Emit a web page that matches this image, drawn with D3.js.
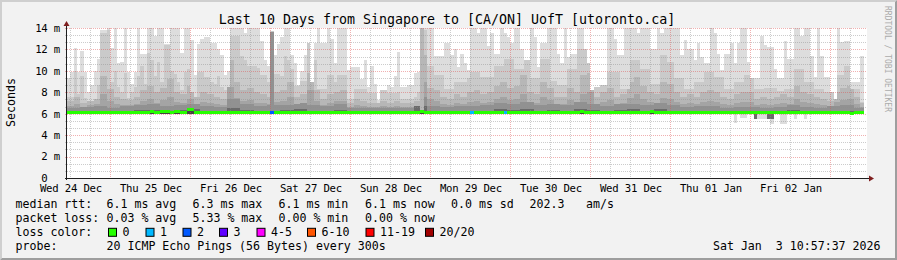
<!DOCTYPE html>
<html>
<head>
<meta charset="utf-8">
<script src="https://cdn.jsdelivr.net/npm/d3@7"></script>
<style>
  html, body { margin: 0; padding: 0; background: #f2f2f2; }
  svg { display: block; }
  text { font-family: "DejaVu Sans Mono", monospace; white-space: pre; fill: #000; }
</style>
</head>
<body>
<svg id="chart" width="897" height="260"></svg>
<script>
// ---- data (ms) ----
// hourly bins from Wed 24 Dec 11:00 to Sat 03 Jan 10:00
var maxPing = [
  9.3, 9.9, 12.1, 9.9, 11.9, 9.9, 8.0, 8.7, 10.0, 11.1,
  13.8, 13.8, 14, 12.1, 14, 10.7, 10.8, 14, 9.9, 8.8,
  9.9, 14, 11.6, 11.6, 14, 14, 13.3, 14, 14, 12.5,
  12.5, 14, 14, 14, 11.7, 14, 14, 12.9, 9.6, 12.5,
  13.0, 13.2, 13.2, 12.6, 12.6, 12.0, 11.5, 9.6, 10.0, 14,
  14, 14, 14, 13.5, 14, 14, 14, 14, 12.8, 11.0,
  10.5, 13.7, 11.5, 12.5, 13.2, 14, 14, 11.5, 10.7, 8.7,
  10.0, 11.5, 12.6, 9.0, 12.6, 14, 12.6, 12.6, 14, 13.0,
  10.7, 14, 14, 14, 10.1, 10.4, 10.4, 10.4, 9.2, 11.0,
  8.5, 10.5, 8.8, 7.3, 8.2, 8.2, 8.7, 8.5, 9.5, 11.8,
  8.5, 8.5, 8.7, 8.7, 9.8, 9.9, 14, 14, 14, 14,
  11.4, 11.4, 11.4, 12.6, 12.6, 11.5, 12.0, 10.4, 11.6, 10.7,
  10.1, 14, 14, 13.5, 14, 14, 12.3, 13.5, 11.6, 11.6,
  14, 13.5, 13.2, 12.6, 14, 14, 12.0, 11.0, 11.0, 14,
  13.2, 10.4, 12.6, 12.6, 14, 14, 14, 11.6, 10.7, 14,
  11.3, 11.6, 11.6, 14, 14, 12.0, 10.7, 8.2, 8.5, 8.5,
  8.7, 8.7, 14, 14, 13.0, 11.5, 11.5, 14, 14, 14,
  14, 13.5, 14, 14, 14, 12.0, 12.0, 14, 13.5, 14,
  14, 14, 14, 14, 11.5, 12.9, 12.0, 12.0, 11.0, 12.6,
  11.3, 10.7, 10.7, 14, 13.5, 11.6, 10.1, 11.6, 11.6, 12.6,
  10.7, 12.6, 14, 14, 10.8, 9.3, 9.3, 9.3, 13.3, 12.4,
  12.2, 12.2, 10.2, 9.3, 9.3, 12.8, 11.1, 11.1, 14, 14,
  13.3, 14, 14, 11.4, 9.4, 14, 11.4, 9.4, 9.4, 8.0,
  7.4, 14, 12.7, 12.8, 12.8, 9.0, 9.0, 9.0, 11.4
];
var ping19 = [
  7.6, 7.6, 10.0, 7.8, 9.5, 7.5, 7.2, 7.2, 7.4, 8.7,
  13.5, 13.5, 13.8, 9.0, 10.0, 8.5, 8.0, 9.8, 7.5, 8.0,
  8.5, 9.5, 10.5, 8.8, 11.7, 11.0, 9.5, 10.8, 9.0, 12.4,
  12.4, 10.0, 9.7, 9.0, 8.2, 9.9, 10.2, 8.0, 7.6, 9.9,
  9.9, 9.4, 9.4, 9.0, 8.8, 9.5, 8.5, 8.2, 8.5, 13.3,
  13.3, 13.3, 11.4, 11.0, 10.5, 10.5, 10.5, 10.3, 9.6, 9.6,
  9.0, 13.7, 9.7, 9.7, 9.5, 11.4, 11.0, 10.2, 8.6, 8.6,
  9.1, 9.1, 13.0, 11.0, 11.0, 8.3, 8.3, 8.3, 9.6, 9.6,
  9.0, 9.6, 9.6, 9.6, 7.4, 7.4, 8.3, 8.3, 8.3, 8.3,
  7.9, 7.9, 7.9, 7.0, 8.6, 8.6, 7.9, 7.9, 7.9, 8.0,
  7.4, 7.4, 7.4, 7.4, 7.6, 8.0, 14.0, 13.8, 10.5, 10.5,
  9.6, 9.6, 9.6, 8.3, 8.3, 8.3, 9.0, 9.0, 9.0, 9.0,
  9.3, 9.9, 9.9, 9.9, 9.4, 9.4, 9.4, 9.4, 10.5, 10.5,
  10.5, 11.1, 11.1, 11.1, 10.2, 10.2, 10.2, 11.9, 11.9, 9.3,
  9.3, 9.3, 11.1, 11.1, 11.1, 9.1, 9.1, 8.7, 8.7, 8.7,
  10.2, 10.2, 10.2, 12.0, 12.0, 12.7, 12.7, 8.7, 8.7, 8.7,
  9.6, 9.6, 9.9, 9.9, 9.9, 9.9, 8.3, 8.3, 8.3, 11.0,
  11.0, 11.0, 10.2, 10.2, 10.2, 8.8, 8.8, 8.8, 11.5, 11.5,
  10.8, 10.8, 9.3, 9.3, 9.3, 8.3, 8.3, 8.3, 9.0, 9.0,
  9.0, 9.9, 9.9, 9.9, 9.4, 9.4, 9.4, 8.3, 8.3, 8.3,
  9.0, 9.0, 9.0, 9.6, 9.6, 9.6, 8.3, 8.3, 8.3, 8.4,
  8.4, 8.4, 8.4, 8.1, 8.1, 8.3, 8.3, 8.3, 10.2, 10.2,
  10.2, 9.0, 9.0, 9.0, 8.3, 8.3, 8.3, 8.0, 8.0, 8.0,
  9.6, 9.6, 9.6, 10.5, 10.5, 8.3, 8.3, 8.3, 7.1
];
// 2-hour bins
var ping18 = [
  7.2, 7.6, 7.0, 7.2, 7.4, 9.5, 8.3, 7.6, 7.4, 7.3,
  7.6, 8.2, 8.6, 8.0, 8.4, 9.2, 8.0, 7.8, 8.6, 7.6,
  8.0, 7.8, 7.6, 7.4, 11.0, 9.0, 8.2, 8.4, 8.0, 7.8,
  7.6, 8.0, 8.2, 9.0, 7.6, 7.8, 9.8, 8.2, 7.4, 7.8,
  8.0, 8.2, 7.0, 7.4, 7.2, 7.0, 7.0, 7.2, 7.0, 7.2,
  7.0, 7.0, 7.2, 11.5, 8.4, 8.2, 7.6, 7.4, 7.8, 7.6,
  8.0, 8.2, 7.8, 8.0, 8.6, 9.0, 8.4, 8.6, 9.6, 8.0,
  7.8, 9.0, 8.4, 7.6, 7.6, 8.4, 8.0, 9.6, 9.8, 7.6,
  8.0, 8.4, 7.6, 7.8, 9.0, 9.4, 8.6, 8.0, 7.8, 9.0,
  8.8, 8.0, 7.6, 7.8, 7.6, 8.0, 8.2, 8.0, 7.6, 7.4,
  7.8, 8.0, 8.0, 7.4, 7.6, 7.4, 7.6, 7.8, 7.6, 8.6,
  8.0, 7.8, 7.6, 7.4, 7.2, 8.0, 8.4, 8.6, 7.6, 7.0
];
var ping17 = [
  6.7, 6.9, 6.6, 6.8, 6.9, 7.8, 7.2, 6.9, 6.8, 6.8,
  6.9, 7.2, 7.4, 7.0, 7.3, 7.6, 7.1, 7.0, 7.4, 6.9,
  7.1, 7.0, 6.9, 6.8, 8.5, 7.5, 7.2, 7.3, 7.0, 7.0,
  6.9, 7.1, 7.2, 7.6, 6.9, 7.0, 8.2, 7.2, 6.8, 7.0,
  7.2, 7.2, 6.6, 6.8, 6.7, 6.6, 6.6, 6.7, 6.6, 6.7,
  6.6, 6.6, 6.7, 9.0, 7.4, 7.2, 6.9, 6.8, 7.0, 6.9,
  7.1, 7.2, 7.0, 7.1, 7.4, 7.6, 7.3, 7.4, 7.8, 7.1,
  7.0, 7.6, 7.3, 6.9, 6.9, 7.3, 7.1, 7.8, 8.0, 6.9,
  7.1, 7.3, 6.9, 7.0, 7.5, 7.8, 7.4, 7.1, 7.0, 7.5,
  7.4, 7.1, 6.9, 7.0, 6.9, 7.1, 7.2, 7.1, 6.9, 6.8,
  7.0, 7.1, 7.1, 6.8, 6.9, 6.8, 6.9, 7.0, 6.9, 7.4,
  7.1, 7.0, 6.9, 6.8, 6.7, 7.1, 7.3, 7.4, 6.9, 6.6
];
// 4-hour bins
var ping16 = [
  6.5, 6.6, 6.7, 6.5, 6.7, 6.8, 6.9, 6.7, 6.8, 6.9,
  6.7, 6.6, 7.4, 6.9, 6.7, 6.8, 6.8, 7.0, 6.8, 6.7,
  6.9, 6.5, 6.5, 6.5, 6.5, 6.5, 7.6, 6.7, 6.6, 6.7,
  6.7, 6.8, 7.0, 6.9, 7.1, 6.8, 6.9, 6.8, 7.1, 6.9,
  6.7, 6.9, 6.9, 6.8, 7.0, 6.8, 6.6, 6.7, 6.7, 6.5,
  6.6, 6.6, 6.5, 6.6, 6.8, 6.6, 6.5, 6.7, 6.8, 6.5
];
var ping14 = [
  6.2, 6.25, 6.25, 6.25, 6.3, 6.35, 6.35, 6.3, 6.35, 6.4,
  6.3, 6.25, 6.5, 6.35, 6.25, 6.3, 6.35, 6.4, 6.3, 6.25,
  6.35, 6.2, 6.2, 6.2, 6.2, 6.2, 6.7, 6.25, 6.25, 6.25,
  6.25, 6.3, 6.4, 6.35, 6.4, 6.3, 6.35, 6.3, 6.4, 6.35,
  6.25, 6.35, 6.4, 6.3, 6.4, 6.3, 6.25, 6.25, 6.3, 6.2,
  6.25, 6.25, 6.2, 6.25, 6.35, 6.25, 6.2, 6.25, 6.3, 6.2
];
var medianBase = 6.1;
// [hour bin, median ms] where the median left 6.1 ms
var medianSteps = [[25, 6.2], [28, 6.2], [29, 6.2], [30, 6.2], [32, 6.2], [33, 6.2],
  [36, 6.35], [37, 6.35], [106, 6.2], [154, 6.2], [175, 6.2], [235, 6.0]];
// [hour bin, lost pings]
var lossEvents = [[61, 2], [121, 1], [131, 1]];
// [hour bin, min ping ms, low dense band ms or null]
var dips = [[200, 5.1, null], [202, 5.6, null], [203, 5.6, null], [206, 5.5, 5.5],
  [207, 5.55, null], [208, 5.55, null], [209, 5.55, null], [210, 5.55, 5.55],
  [211, 5.05, 5.55], [214, 5.0, null], [215, 5.0, null], [218, 5.5, null], [221, 5.5, null]];
// [hour bin, top ms, smoke band] hours where most pings were slow
var bursts = [[61, 13.6, 5], [106, 14, 3]];

var lossLabels = ["0", "1", "2", "3", "4-5", "6-10", "11-19", "20/20"];
var lossColors = ["#26ff00", "#00b8ff", "#0059ff", "#5e00ff", "#ff00ff", "#ff5500", "#ff0000", "#a00000"];

var yTickValues = [0, 2, 4, 6, 8, 10, 12, 14];
var yTickLabels = ["0  ", "2 m", "4 m", "6 m", "8 m", "10 m", "12 m", "14 m"];
var xTickLabels = ["Wed 24 Dec", "Thu 25 Dec", "Fri 26 Dec", "Sat 27 Dec", "Sun 28 Dec",
  "Mon 29 Dec", "Tue 30 Dec", "Wed 31 Dec", "Thu 01 Jan", "Fri 02 Jan"];

var titleText = "Last 10 Days from Singapore to [CA/ON] UofT [utoronto.ca]";
var rttStats = ["6.1 ms avg", "6.3 ms max", "6.1 ms min", "6.1 ms now", "0.0 ms sd"];
var lossStats = ["0.03 % avg", "5.33 % max", "0.00 % min", "0.00 % now"];
var amsValue = "202.3";
var probeText = "20 ICMP Echo Pings (56 Bytes) every 300s";
var stampText = "Sat Jan  3 10:57:37 2026";

// ---- layout ----
var W = 897, H = 260;
var plot = { left: 67, right: 867, top: 28, bottom: 178 };
var HOUR = 3600000;
var start = Date.UTC(2025, 11, 24, 10, 57, 37);
var end = Date.UTC(2026, 0, 3, 10, 57, 37);
var firstBin = Date.UTC(2025, 11, 24, 11, 0, 0);

var x = d3.scaleUtc().domain([start, end]).range([plot.left, plot.right]);
var y = d3.scaleLinear().domain([0, 14]).range([plot.bottom, plot.top]);

// smokeping grey for band n of 10
function shade(band) {
  var c = Math.floor(190 / 10 * (10 - band)) + 50;
  return d3.rgb(c, c, c).formatHex();
}

var medianMap = new Map(medianSteps);
var lossMap = new Map(lossEvents);

var bins = maxPing.map(function(v, i) {
  var t0 = firstBin + i * HOUR;
  var med = medianMap.has(i) ? medianMap.get(i) : medianBase;
  var raw = [v, ping19[i], ping18[Math.floor(i / 2)], ping17[Math.floor(i / 2)],
    ping16[Math.floor(i / 4)], ping14[Math.floor(i / 4)]];
  // inner bands can never stick out of the outer ones
  var tops = [];
  raw.forEach(function(r, k) { tops.push(k === 0 ? r : Math.min(r, tops[k - 1])); });
  return {
    i: i, x0: x(t0), x1: x(t0 + HOUR), med: med,
    bottom: Math.min(med, medianBase), tops: tops,
    loss: lossMap.has(i) ? lossMap.get(i) : 0
  };
});

var svg = d3.select("#chart");

svg.append("rect").attr("width", W).attr("height", H).attr("fill", "#f2f2f2");
svg.append("path").attr("d", "M0,0H" + W + "L" + (W - 2) + ",2H2V" + (H - 2) + "L0," + H + "Z")
  .attr("fill", "#cfcfcf");
svg.append("path").attr("d", "M0," + H + "H" + W + "V0L" + (W - 2) + ",2V" + (H - 2) + "H2Z")
  .attr("fill", "#9e9e9e");

svg.append("rect")
  .attr("x", plot.left).attr("y", plot.top)
  .attr("width", plot.right - plot.left).attr("height", plot.bottom - plot.top)
  .attr("fill", "#fff");

// smoke
var smoke = svg.append("g").attr("shape-rendering", "crispEdges");
var bandOf = [1, 2, 3, 4, 5, 7];
bandOf.forEach(function(band, k) {
  smoke.append("g").selectAll("rect")
    .data(bins)
    .join("rect")
    .attr("x", function(d) { return d.x0; })
    .attr("width", function(d) { return d.x1 - d.x0; })
    .attr("y", function(d) { return y(d.tops[k]); })
    .attr("height", function(d) { return Math.max(0, y(d.bottom) - y(d.tops[k])); })
    .attr("fill", shade(band));
});

smoke.append("g").selectAll("rect")
  .data(bursts)
  .join("rect")
  .attr("x", function(d) { return bins[d[0]].x0; })
  .attr("width", function(d) { return bins[d[0]].x1 - bins[d[0]].x0; })
  .attr("y", function(d) { return y(d[1]); })
  .attr("height", function(d) { return y(bins[d[0]].bottom) - y(d[1]); })
  .attr("fill", function(d) { return shade(d[2]); });

// pings below the median
smoke.append("g").selectAll("rect")
  .data(dips)
  .join("rect")
  .attr("x", function(d) { return bins[d[0]].x0; })
  .attr("width", function(d) { return bins[d[0]].x1 - bins[d[0]].x0; })
  .attr("y", function(d) { return y(bins[d[0]].med); })
  .attr("height", function(d) { return y(d[1]) - y(bins[d[0]].med); })
  .attr("fill", shade(1));
smoke.append("g").selectAll("rect")
  .data(dips.filter(function(d) { return d[2] !== null; }))
  .join("rect")
  .attr("x", function(d) { return bins[d[0]].x0; })
  .attr("width", function(d) { return bins[d[0]].x1 - bins[d[0]].x0; })
  .attr("y", function(d) { return y(bins[d[0]].med); })
  .attr("height", function(d) { return y(d[2]) - y(bins[d[0]].med); })
  .attr("fill", shade(7));

// dense core where the median sits above the fastest pings
smoke.append("g").selectAll("rect")
  .data(bins.filter(function(d) { return d.med > medianBase; }))
  .join("rect")
  .attr("x", function(d) { return d.x0; })
  .attr("width", function(d) { return d.x1 - d.x0; })
  .attr("y", function(d) { return y(d.med); })
  .attr("height", function(d) { return y(medianBase) - y(d.med) + 1.5; })
  .attr("fill", shade(9));

// grid, dotted like rrdtool
var grid = svg.append("g").attr("fill", "none").attr("shape-rendering", "crispEdges");
var minorGrid = "rgba(143,143,143,0.45)";
var majorGrid = "rgba(222,79,79,0.45)";
function dotted(sel) {
  return sel.attr("stroke-width", 1).attr("stroke-dasharray", "1 1").attr("stroke-linecap", "butt");
}
var minorY = d3.range(1, 21).filter(function(k) { return k % 3 !== 0; }).map(function(k) { return k * 2 / 3; });
grid.selectAll(".ymin").data(minorY).join("line")
  .attr("x1", plot.left - 2).attr("x2", plot.right)
  .attr("y1", function(d) { return Math.round(y(d)) + 0.5; })
  .attr("y2", function(d) { return Math.round(y(d)) + 0.5; })
  .attr("stroke", minorGrid)
  .call(dotted);
var hours6 = d3.utcHour.every(6).range(start, end);
grid.selectAll(".xg").data(hours6).join("line")
  .attr("x1", function(d) { return Math.round(x(d)) + 0.5; })
  .attr("x2", function(d) { return Math.round(x(d)) + 0.5; })
  .attr("y1", plot.top).attr("y2", plot.bottom + 2)
  .attr("stroke", function(d) { return d.getUTCHours() === 0 ? majorGrid : minorGrid; })
  .call(dotted);
grid.selectAll(".ymaj").data(yTickValues.slice(1)).join("line")
  .attr("x1", plot.left - 2).attr("x2", plot.right)
  .attr("y1", function(d) { return Math.round(y(d)) + 0.5; })
  .attr("y2", function(d) { return Math.round(y(d)) + 0.5; })
  .attr("stroke", majorGrid)
  .call(dotted);

// median line coloured by loss
svg.append("g").attr("shape-rendering", "crispEdges").selectAll("rect")
  .data(bins)
  .join("rect")
  .attr("x", function(d) { return d.x0; })
  .attr("width", function(d) { return d.x1 - d.x0; })
  .attr("y", function(d) { return y(d.med) - 1.5; })
  .attr("height", 3)
  .attr("fill", function(d) { return lossColors[Math.min(d.loss, 7)]; });

// axes lines and arrows
svg.append("line").attr("x1", plot.left - 0.5).attr("x2", plot.left - 0.5)
  .attr("y1", plot.bottom + 2).attr("y2", plot.top - 2)
  .attr("stroke", "#1f1f1f");
svg.append("line").attr("x1", plot.left - 2).attr("x2", plot.right + 2)
  .attr("y1", plot.bottom + 0.5).attr("y2", plot.bottom + 0.5)
  .attr("stroke", "#1f1f1f");
svg.append("path")
  .attr("d", "M" + (plot.left - 3.5) + "," + (plot.top - 2) + "L" + (plot.left - 0.5) + "," + (plot.top - 7) +
    "L" + (plot.left + 2.5) + "," + (plot.top - 2) + "Z")
  .attr("fill", "#7f1f1f");
svg.append("path")
  .attr("d", "M" + (plot.right + 2) + "," + (plot.bottom - 2.5) + "L" + (plot.right + 7) + "," + (plot.bottom + 0.5) +
    "L" + (plot.right + 2) + "," + (plot.bottom + 3.5) + "Z")
  .attr("fill", "#7f1f1f");

// axis labels
var xTicks = xTickLabels.map(function(s, i) { return Date.UTC(2025, 11, 24 + i, 12); });
var xAxis = d3.axisBottom(x)
  .tickValues(xTicks)
  .tickSize(0)
  .tickPadding(6)
  .tickFormat(function(d, i) { return xTickLabels[i]; });
var gx = svg.append("g").attr("transform", "translate(0," + plot.bottom + ")").call(xAxis);
gx.select(".domain").remove();
gx.selectAll("text").attr("font-size", "10.67px").attr("letter-spacing", "-0.2px");

var yAxis = d3.axisLeft(y)
  .tickValues(yTickValues)
  .tickSize(0)
  .tickPadding(7)
  .tickFormat(function(d, i) { return yTickLabels[i]; });
var gy = svg.append("g").attr("transform", "translate(" + plot.left + ",0)").call(yAxis);
gy.select(".domain").remove();
gy.selectAll("text").attr("font-size", "10.67px").attr("letter-spacing", "-0.2px");

svg.append("text")
  .attr("x", 447).attr("y", 24)
  .attr("text-anchor", "middle")
  .attr("font-size", "13.3px")
  .text(titleText);

svg.append("text")
  .attr("transform", "translate(15,102.5) rotate(-90)")
  .attr("text-anchor", "middle")
  .attr("font-size", "11.6px")
  .text("Seconds");

svg.append("text")
  .attr("transform", "translate(885,59) rotate(90)")
  .attr("text-anchor", "middle")
  .attr("font-size", "8px")
  .style("fill", "#ababab")
  .text("RRDTOOL / TOBI OETIKER");

// legend
var legendCols = [106.5, 192.5, 278.5, 365, 451];
var rowY = [208, 222, 235.8, 249.7];
var legend = svg.append("g").attr("font-size", "11.6px");

legend.append("text").attr("x", 15.5).attr("y", rowY[0]).text("median rtt:");
rttStats.forEach(function(s, i) {
  legend.append("text").attr("x", legendCols[i]).attr("y", rowY[0]).text(s);
});
legend.append("text").attr("x", 529.5).attr("y", rowY[0]).text(amsValue);
legend.append("text").attr("x", 586).attr("y", rowY[0]).text("am/s");

legend.append("text").attr("x", 15.5).attr("y", rowY[1]).text("packet loss:");
lossStats.forEach(function(s, i) {
  legend.append("text").attr("x", legendCols[i]).attr("y", rowY[1]).text(s);
});

legend.append("text").attr("x", 15.5).attr("y", rowY[2]).text("loss color:");
var boxX = [108, 145.5, 182.5, 219, 256.5, 307, 365.5, 425];
lossLabels.forEach(function(s, i) {
  legend.append("rect")
    .attr("x", boxX[i] + 0.5).attr("y", rowY[2] - 7.5)
    .attr("width", 8).attr("height", 8)
    .attr("fill", lossColors[i]).attr("stroke", "#000");
  legend.append("text").attr("x", boxX[i] + 14.5).attr("y", rowY[2]).text(s);
});

legend.append("text").attr("x", 15.5).attr("y", rowY[3]).text("probe:");
legend.append("text").attr("x", legendCols[0]).attr("y", rowY[3]).text(probeText);
legend.append("text").attr("x", 880.5).attr("y", rowY[3]).attr("text-anchor", "end").text(stampText);
</script>
</body>
</html>
